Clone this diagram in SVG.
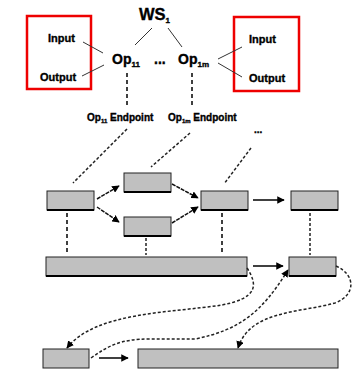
<svg xmlns="http://www.w3.org/2000/svg" width="355" height="369" viewBox="0 0 355 369">
<style>
.t{font-family:"Liberation Sans",Arial,sans-serif;font-weight:bold;fill:#000;stroke:#000;stroke-width:0.35}
.red{fill:none;stroke:#ee0000;stroke-width:2.5}
.box{fill:#c0c0c0;stroke:#222;stroke-width:1}
.sh{stroke:#000;stroke-width:2}
.ln{fill:none;stroke:#333;stroke-width:1}
.dv{fill:none;stroke:#000;stroke-width:1.5;stroke-dasharray:4,3}
.dt{fill:none;stroke:#222;stroke-width:1.5;stroke-dasharray:3,2}
.ar{fill:none;stroke:#111;stroke-width:1.5;stroke-dasharray:4,1}
.sol{fill:none;stroke:#000;stroke-width:1.5}
</style>
<defs>
<marker id="ah" viewBox="0 0 10 10" refX="9" refY="5" markerWidth="5" markerHeight="5" orient="auto" markerUnits="strokeWidth">
<path d="M0,0 L10,5 L0,10 z" fill="#000"/>
</marker>
</defs>
<g id="ws1"><text class="t" x="139" y="20" font-size="16.5">WS<tspan font-size="8" dy="3">1</tspan></text></g>
<g id="op11"><text class="t" x="112" y="64" font-size="14">Op<tspan font-size="8" dy="3">11</tspan></text></g>
<g id="dots"><text class="t" x="154" y="64" font-size="14">...</text></g>
<g id="op1m"><text class="t" x="178" y="64" font-size="14">Op<tspan font-size="8" dy="3">1m</tspan></text></g>
<g id="io-left">
<rect class="red" x="27" y="16" width="64" height="73"/>
<text class="t" x="48" y="42" font-size="11">Input</text>
<text class="t" x="40" y="81" font-size="11">Output</text>
</g>
<g id="io-right">
<rect class="red" x="234" y="17" width="65" height="74"/>
<text class="t" x="249" y="43" font-size="11">Input</text>
<text class="t" x="249" y="82" font-size="11">Output</text>
</g>
<g id="ep11"><text class="t" x="87" y="121" font-size="10">Op<tspan font-size="6" dy="2">11</tspan><tspan dy="-2"> Endpoint</tspan></text></g>
<g id="ep1m"><text class="t" x="168" y="121" font-size="10">Op<tspan font-size="6" dy="2">1m</tspan><tspan dy="-2"> Endpoint</tspan></text></g>
<g id="dots2"><text class="t" x="254" y="133" font-size="10">...</text></g>
<g id="A"><rect class="box" x="47" y="191" width="47" height="19"/><line class="sh" x1="47" y1="210" x2="94" y2="210"/></g>
<g id="B"><rect class="box" x="124" y="173" width="47" height="19"/><line class="sh" x1="124" y1="192" x2="171" y2="192"/></g>
<g id="C"><rect class="box" x="124" y="217" width="47" height="19"/><line class="sh" x1="124" y1="236" x2="171" y2="236"/></g>
<g id="D"><rect class="box" x="201" y="191" width="47" height="19"/><line class="sh" x1="201" y1="210" x2="248" y2="210"/></g>
<g id="E"><rect class="box" x="291" y="191" width="47" height="19"/><line class="sh" x1="291" y1="210" x2="338" y2="210"/></g>
<g id="F"><rect class="box" x="46" y="257" width="201" height="19"/><line class="sh" x1="46" y1="276" x2="247" y2="276"/></g>
<g id="G"><rect class="box" x="289" y="257" width="47" height="19"/><line class="sh" x1="289" y1="276" x2="336" y2="276"/></g>
<g id="H"><rect class="box" x="43" y="349" width="46" height="19"/></g>
<g id="I"><rect class="box" x="138" y="349" width="200" height="19"/></g>
<g id="connectors">
<line class="ln" x1="135" y1="45" x2="152" y2="28"/>
<line class="ln" x1="168" y1="28" x2="182" y2="47"/>
<line class="ln" x1="83" y1="42" x2="103" y2="53"/>
<line class="ln" x1="82" y1="76" x2="104" y2="65"/>
<line class="ln" x1="218" y1="59" x2="242" y2="47"/>
<line class="ln" x1="218" y1="63" x2="242" y2="77"/>
<line class="dv" x1="127" y1="73" x2="127" y2="107"/>
<line class="dv" x1="192" y1="73" x2="192" y2="107"/>
<line class="dt" x1="127" y1="129" x2="73" y2="183"/>
<line class="dt" x1="190" y1="133" x2="151" y2="167"/>
<line class="dt" x1="251" y1="148" x2="224" y2="184"/>
<line class="ar" x1="97" y1="199" x2="119" y2="186" marker-end="url(#ah)"/>
<line class="ar" x1="97" y1="207" x2="119" y2="222" marker-end="url(#ah)"/>
<line class="ar" x1="172" y1="184" x2="198" y2="198" marker-end="url(#ah)"/>
<line class="ar" x1="172" y1="223" x2="198" y2="207" marker-end="url(#ah)"/>
<line class="sol" x1="253" y1="200" x2="284" y2="200" marker-end="url(#ah)"/>
<line class="dv" x1="67" y1="213" x2="67" y2="255"/>
<line class="dt" x1="146" y1="238" x2="146" y2="255" stroke-width="1"/>
<line class="dv" x1="222" y1="213" x2="222" y2="255"/>
<line class="dt" x1="310" y1="213" x2="310" y2="255"/>
<line class="sol" x1="253" y1="266" x2="283" y2="266" marker-end="url(#ah)"/>
<line class="sol" x1="99" y1="358" x2="128" y2="358" marker-end="url(#ah)"/>
<path class="dt" d="M247,268 C258,285 258,298 222,305 C170,313 95,312 67,348" marker-end="url(#ah)"/>
<path class="dt" d="M91,358 C108,346 120,339 150,339 L195,339 C240,330 262,312 288,270" marker-end="url(#ah)"/>
<path class="dt" d="M336,266 C356,275 356,295 335,303 C300,313 250,310 238,348" marker-end="url(#ah)"/>
</g>
</svg>
